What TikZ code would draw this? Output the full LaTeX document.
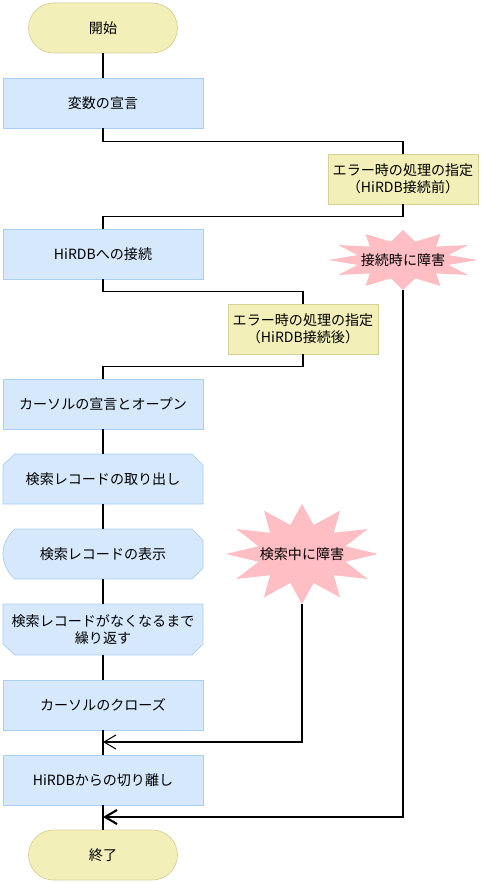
\documentclass[tikz,border=0pt]{standalone}
\usepackage{fontspec}
\setmainfont{Noto Sans CJK JP}
\usetikzlibrary{arrows.meta,positioning,calc}
\definecolor{procfill}{RGB}{213,232,252}
\definecolor{procline}{RGB}{168,206,246}
\definecolor{termfill}{RGB}{243,239,185}
\definecolor{termline}{RGB}{214,210,150}
\definecolor{burstfill}{RGB}{255,190,196}
\tikzset{
  shapetext/.style={minimum width=4cm, minimum height=1cm, inner sep=0pt, align=center},
  proc/.style={shapetext, draw=procline, fill=procfill},
  term/.style={draw=termline, fill=termfill, rounded corners=0.5cm, minimum width=2.98cm, minimum height=1cm, inner sep=0pt},
  errbox/.style={draw=termline, fill=termfill, minimum width=3cm, minimum height=1cm, inner sep=0pt, align=center},
  bursttext/.style={minimum width=3cm, inner sep=0pt},
  flow/.style={line width=0.6pt},
}
\begin{document}
\begin{tikzpicture}[x=0.02cm, y=-0.02cm, font=\fontsize{8}{9.5}\selectfont, >={Straight Barb[length=6.8pt,width=8pt]}]
\useasboundingbox (0,0) rectangle (481,884);
% bursts
\fill[burstfill, shift={(403,260)}] (0:75 and 30) \foreach \a in {30,60,...,330} {-- ({\a-15}:47 and 19) -- (\a:75 and 30)} -- (345:47 and 19) -- cycle;
\fill[burstfill, shift={(302,554)}] (0:76 and 50) \foreach \a in {30,60,...,330} {-- ({\a-15}:45 and 30) -- (\a:76 and 50)} -- (345:45 and 30) -- cycle;
% special shapes
\draw[procline, fill=procfill] (15,454) -- (192,454) -- (203,465) -- (203,504) -- (3,504) -- (3,465) -- cycle;
\draw[procline, fill=procfill] (15,529) -- (192,529) -- (203,540) -- (203,568) -- (192,579) -- (15,579)
  .. controls (7,572) and (3,563) .. (3,554) .. controls (3,545) and (7,536) .. (15,529) -- cycle;
\draw[procline, fill=procfill] (3,604) -- (203,604) -- (203,644) -- (192,655) -- (15,655) -- (3,644) -- cycle;
% nodes
\node[term] (start) at (103,28) {開始};
\node[proc] (decl) at (103,103) {変数の宣言};
\node[errbox] (before) at (403,179) {エラー時の処理の指定\\（HiRDB接続前）};
\node[proc] (connect) at (103,254) {HiRDBへの接続};
\node[bursttext, minimum height=1.2cm] (fail1) at (403,260) {接続時に障害};
\node[errbox] (after) at (303,329) {エラー時の処理の指定\\（HiRDB接続後）};
\node[proc] (open) at (103,404) {カーソルの宣言とオープン};
\node[shapetext] (fetch) at (103,479) {検索レコードの取り出し};
\node[shapetext] (display) at (103,554) {検索レコードの表示};
\node[shapetext, minimum height=1.02cm] (until) at (103,629.5) {検索レコードがなくなるまで\\繰り返す};
\node[bursttext, minimum height=2cm] (fail2) at (302,554) {検索中に障害};
\node[proc] (close) at (103,705) {カーソルのクローズ};
\node[proc] (detach) at (103,780) {HiRDBからの切り離し};
\node[term] (stop) at (103,855) {終了};
\coordinate (rejoin1) at (103,742);
\coordinate (rejoin2) at (103,817);
% connectors
\draw[flow] (start) -- (decl);
\draw[flow] (decl.south) -- ++(0,13) -| (before.north);
\draw[flow] (before.south) -- ++(0,12) -| (connect.north);
\draw[flow] (connect.south) -- ++(0,12) -| (after.north);
\draw[flow] (after.south) -- ++(0,12) -| (open.north);
\draw[flow] (open) -- (fetch);
\draw[flow] (fetch) -- (display);
\draw[flow] (display) -- (until);
\draw[flow] (until) -- (close);
\draw[flow] (close) -- (detach);
\draw[flow] (detach) -- (stop);
\draw[flow,->] (fail2.south) |- (rejoin1);
\draw[flow,line width=1.2pt,->] (fail1.south) |- (rejoin2);
\end{tikzpicture}
\end{document}
